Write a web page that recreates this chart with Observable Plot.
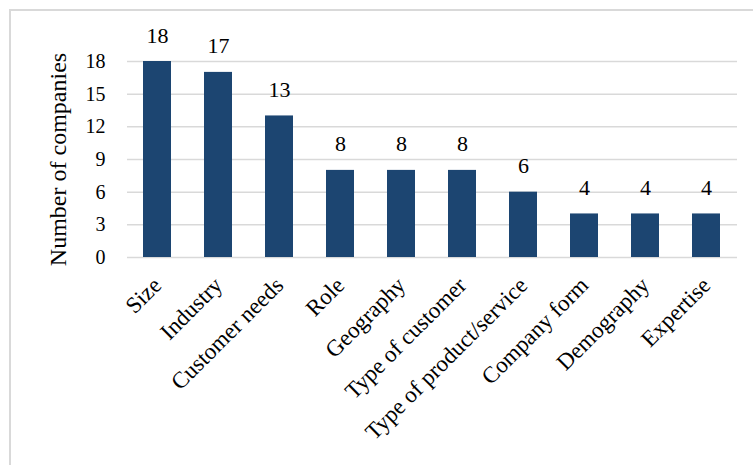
<!DOCTYPE html>
<html>
<head>
<meta charset="utf-8">
<script src="https://cdn.jsdelivr.net/npm/d3@7"></script>
<script src="https://cdn.jsdelivr.net/npm/@observablehq/plot@0.6"></script>
<style>
  html, body { margin: 0; padding: 0; background: #fff; }
  #wrap { position: relative; width: 753px; height: 465px; overflow: hidden; }
  #edge { position: absolute; left: 9px; top: 9px; right: -4px; bottom: -4px;
          border-top: 2px solid #d9d9d9; border-left: 2px solid #d9d9d9; pointer-events: none; }
  #wrap svg { position: absolute; left: 0; top: 0; }
</style>
</head>
<body>
<div id="wrap"><div id="edge"></div></div>
<script>
// Segmentation criteria and how many companies use each
const categories = ["Size", "Industry", "Customer needs", "Role", "Geography",
  "Type of customer", "Type of product/service", "Company form", "Demography", "Expertise"];
const counts = [18, 17, 13, 8, 8, 8, 6, 4, 4, 4];
const yTicks = [0, 3, 6, 9, 12, 15, 18];
const yLabel = "Number of companies";

const rows = categories.map((c, i) => ({category: c, count: counts[i]}));
const serif = "'Liberation Serif', 'Times New Roman', serif";

const chart = Plot.plot({
  width: 753,
  height: 465,
  marginLeft: 127,
  marginRight: 16,
  marginTop: 61,
  marginBottom: 208,
  style: {fontFamily: serif, color: "#000", background: "transparent"},
  x: {domain: categories, paddingInner: 0.54, paddingOuter: 0.27},
  y: {domain: [0, 18]},
  marks: [
    Plot.gridY(yTicks, {stroke: "#d9d9d9", strokeOpacity: 1, strokeWidth: 1.5}),
    Plot.barY(rows, {x: "category", y: "count", fill: "#1c4571"}),
    Plot.text(rows, {x: "category", y: "count", text: d => String(d.count),
      dy: -26, fontSize: 22, fill: "#000"}),
    Plot.axisY(yTicks, {tickSize: 0, tickPadding: 22, fontSize: 20, label: null, fill: "#000"}),
    Plot.axisX({tickSize: 0, tickPadding: 24, tickRotate: -45, fontSize: 23, label: null, fill: "#000"}),
    Plot.text([yLabel], {frameAnchor: "left", dx: -69, rotate: -90, fontSize: 24,
      textAnchor: "middle", text: d => d, fill: "#000"})
  ]
});
document.getElementById("wrap").appendChild(chart);
</script>
</body>
</html>
